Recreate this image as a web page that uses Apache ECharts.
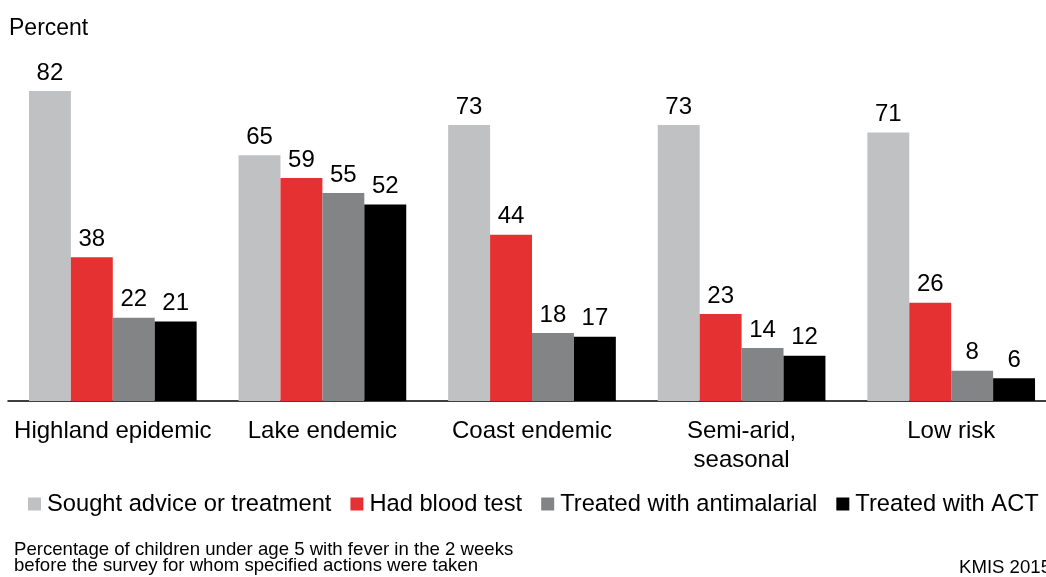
<!DOCTYPE html>
<html>
<head>
<meta charset="utf-8">
<script src="https://cdn.jsdelivr.net/npm/echarts@6/dist/echarts.min.js"></script>
<style>
    html, body { margin: 0; padding: 0; background: #fff; }
    #chart { width: 1046px; height: 577px; }
</style>
</head>
<body>
<div id="chart"></div>
<script>
// data
const categories = ["Highland epidemic", "Lake endemic", "Coast endemic", "Semi-arid,\nseasonal", "Low risk"];
const seriesNames = ["Sought advice or treatment", "Had blood test", "Treated with antimalarial", "Treated with ACT"];
const sought = [82, 65, 73, 73, 71];
const bloodTest = [38, 59, 44, 23, 26];
const antimalarial = [22, 55, 18, 14, 8];
const act = [21, 52, 17, 12, 6];
const colors = ["#c0c1c3", "#e53131", "#838486", "#000000"];

const font = "Liberation Sans, Arial, sans-serif";

(function () {
    let myChart = echarts.init(document.getElementById("chart"));

    let values = [sought, bloodTest, antimalarial, act];
    let series = seriesNames.map(function (name, i) {
        return {
            name: name,
            type: "bar",
            data: values[i],
            barGap: "0%",
            barCategoryGap: "20%",
            itemStyle: { color: colors[i] },
            label: {
                show: true,
                position: "top",
                distance: 6,
                color: "#000",
                fontSize: 24,
                fontFamily: font
            },
            animation: false
        };
    });

    let option = {
        color: colors,
        textStyle: { fontFamily: font },
        grid: {
            left: 8,
            width: 1048,
            top: 23,
            bottom: 176,
            outerBoundsMode: "none"
        },
        xAxis: {
            type: "category",
            data: categories,
            axisTick: { show: false },
            axisLine: { lineStyle: { color: "#000", width: 1.5 } },
            axisLabel: {
                color: "#000",
                fontSize: 24,
                fontFamily: font,
                margin: 16,
                lineHeight: 29,
                interval: 0
            }
        },
        yAxis: {
            type: "value",
            min: 0,
            max: 100,
            show: false
        },
        legend: {
            left: 28,
            top: 492,
            width: 1040,
            padding: 0,
            itemWidth: 13,
            itemHeight: 13,
            itemGap: 19,
            icon: "rect",
            textStyle: { color: "#000", fontSize: 23.7, fontFamily: font, padding: [0, 0, 0, 1] },
            data: seriesNames
        },
        graphic: [
            {
                type: "text",
                left: 9,
                top: 17,
                style: { text: "Percent", fill: "#000", fontSize: 23, fontFamily: font }
            },
            {
                type: "text",
                left: 14,
                top: 540,
                style: {
                    text: "Percentage of children under age 5 with fever in the 2 weeks\nbefore the survey for whom specified actions were taken",
                    fill: "#000",
                    fontSize: 18.6,
                    lineHeight: 16,
                    fontFamily: font
                }
            },
            {
                type: "text",
                left: 959,
                top: 558,
                style: { text: "KMIS 2015", fill: "#000", fontSize: 18.6, fontFamily: font }
            }
        ],
        series: series
    };

    myChart.setOption(option);
    window.addEventListener("resize", function () {
        myChart.resize();
    });
})();
</script>
</body>
</html>
